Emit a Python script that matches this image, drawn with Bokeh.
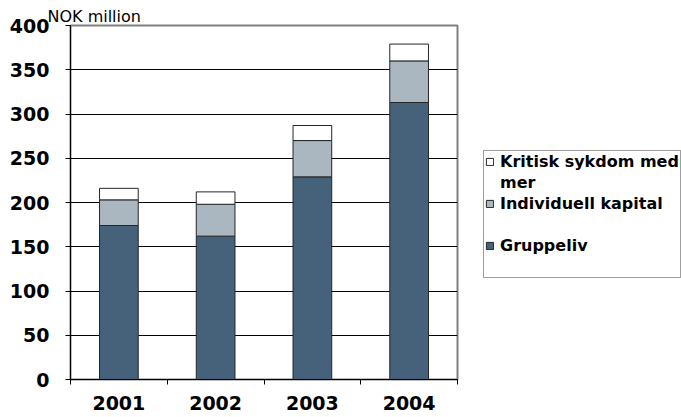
from bokeh.plotting import figure
from bokeh.models import (ColumnDataSource, Range1d, FixedTicker, Legend, LegendItem, Title)
from bokeh.embed import file_html
from bokeh.resources import INLINE

years = ["2001", "2002", "2003", "2004"]
gruppeliv = [174, 162, 229, 313]
individuell = [29, 36, 41, 47]
kritisk = [13, 14, 17, 19]
y_ticks = [0, 50, 100, 150, 200, 250, 300, 350, 400]
series_names = ["Gruppeliv", "Individuell kapital", "Kritisk sykdom med", "mer"]
colors = ["#46627A", "#AAB7C1", "#FFFFFF"]

xs = [i + 1 for i in range(len(years))]
source = ColumnDataSource(dict(x=xs, g=gruppeliv, i=individuell, k=kritisk))

p = figure(frame_width=387, frame_height=354, output_backend="svg", toolbar_location=None,
           x_range=Range1d(0.5, len(years) + 0.5), y_range=Range1d(0, 400),
           min_border_left=70, min_border_right=224, min_border_top=25, min_border_bottom=38)

renderers = p.vbar_stack(["g", "i", "k"], x="x", width=0.4, source=source,
                         fill_color=colors, line_color="#262626", line_width=1)

p.title = Title(text="NOK million", align="left", offset=-23, standoff=0,
                text_font="DejaVu Sans", text_font_size="16px", text_font_style="normal",
                text_color="black")

p.background_fill_color = "white"
p.border_fill_color = "white"
p.outline_line_color = "#808080"
p.outline_line_width = 2

p.xgrid.grid_line_color = None
p.ygrid.grid_line_color = "black"
p.ygrid.grid_line_width = 1
p.ygrid.ticker = FixedTicker(ticks=y_ticks)

ya = p.yaxis[0]
ya.ticker = FixedTicker(ticks=y_ticks)
ya.axis_line_color = "black"
ya.major_tick_line_color = "black"
ya.major_tick_out = 5
ya.major_tick_in = 0
ya.minor_tick_line_color = None
ya.major_label_text_font = "DejaVu Sans"
ya.major_label_text_font_style = "bold"
ya.major_label_text_font_size = "19px"
ya.major_label_text_color = "black"
ya.major_label_standoff = 16

xa = p.xaxis[0]
xa.ticker = FixedTicker(ticks=xs, minor_ticks=[x - 0.5 for x in xs] + [xs[-1] + 0.5])
xa.major_label_overrides = {x: y for x, y in zip(xs, years)}
xa.axis_line_color = "black"
xa.major_tick_line_color = None
xa.major_tick_out = 0
xa.major_tick_in = 0
xa.minor_tick_line_color = "black"
xa.minor_tick_out = 5
xa.minor_tick_in = 0
xa.major_label_text_font = "DejaVu Sans"
xa.major_label_text_font_style = "bold"
xa.major_label_text_font_size = "19px"
xa.major_label_text_color = "black"
xa.major_label_standoff = 11

items = [LegendItem(label=series_names[2], renderers=[renderers[2]]),
         LegendItem(label=series_names[3], renderers=[]),
         LegendItem(label=series_names[1], renderers=[renderers[1]]),
         LegendItem(label=" ", renderers=[]),
         LegendItem(label=series_names[0], renderers=[renderers[0]]),
         LegendItem(label=" ", renderers=[])]
legend = Legend(items=items, location=(26, 101))
legend.label_text_font = "DejaVu Sans"
legend.label_text_font_style = "bold"
legend.label_text_font_size = "16px"
legend.label_text_color = "black"
legend.label_height = 19
legend.glyph_width = 9
legend.glyph_height = 9
legend.label_standoff = 6
legend.padding = 1
legend.spacing = 2
legend.margin = 0
legend.border_line_color = "#404040"
legend.border_line_width = 1
legend.background_fill_alpha = 1
p.add_layout(legend, "right")

open("out.html", "w").write(file_html(p, INLINE))
